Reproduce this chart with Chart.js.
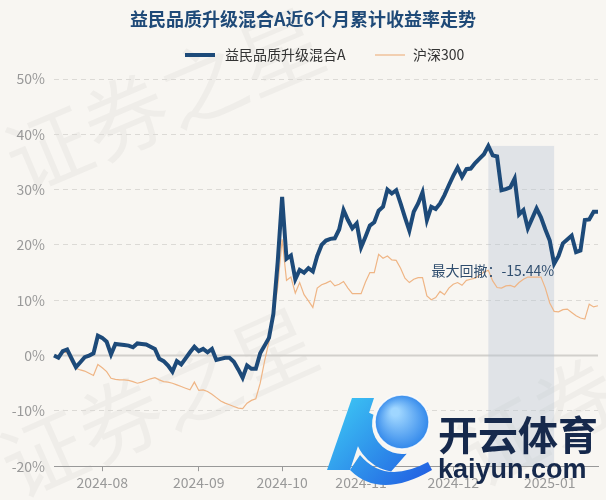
<!DOCTYPE html>
<html><head><meta charset="utf-8">
<script src="https://cdn.jsdelivr.net/npm/chart.js@4"></script>
<style>html,body{margin:0;padding:0;background:#f8f6f2;}#wrap{width:606px;height:500px;position:relative;}</style>
</head><body><div id="wrap"><canvas id="c"></canvas></div>
<script>
// ---- data ----
const startDate = '2024-07-17';
const endDate = '2025-01-17';
const holidays = ['2024-09-16','2024-09-17','2024-10-01','2024-10-02','2024-10-03','2024-10-04','2024-10-07','2025-01-01'];
const seriesNames = ['益民品质升级混合A', '沪深300'];
const fund = [
 0.0,-0.4,0.8,1.1,-0.5,-2.1,-1.2,-0.3,0.0,0.4,
 3.6,3.2,2.5,0.2,2.1,2.0,1.9,1.8,1.5,2.2,
 2.1,2.0,1.6,1.2,-0.6,-1.0,-1.8,-2.9,-1.0,-1.6,
 -0.5,0.6,1.6,0.8,1.2,0.6,1.2,-0.8,-0.6,-0.4,
 -0.4,-1.1,-2.5,-4.0,-1.8,-2.4,-2.4,0.4,1.8,3.2,
 7.5,17.0,28.7,17.5,18.1,13.8,15.5,15.0,15.8,15.2,
 18.0,20.0,20.8,21.1,21.2,22.8,26.3,24.5,23.0,23.9,
 19.6,21.5,23.5,24.1,26.2,26.9,30.0,29.3,29.9,27.5,
 25.0,22.6,26.0,27.5,29.5,24.5,26.9,26.5,27.5,29.0,
 30.8,32.5,34.0,32.3,33.7,33.8,34.8,35.6,36.4,37.9,
 36.2,36.0,29.9,30.1,30.4,32.0,25.5,26.3,23.0,24.8,
 26.6,25.0,22.8,20.8,16.6,18.0,20.3,21.0,21.7,18.7,
 19.0,24.5,24.6,26.0,26.0
];
const hs300 = [
 0.0,-0.3,0.6,0.5,-1.2,-2.3,-2.6,-2.8,-3.2,-3.6,
 -1.6,-2.2,-2.9,-4.1,-4.3,-4.4,-4.4,-4.5,-4.7,-5.0,
 -4.8,-4.5,-4.2,-4.0,-4.4,-4.7,-4.8,-5.0,-5.3,-5.6,
 -5.9,-6.2,-4.8,-6.3,-6.2,-6.5,-7.0,-7.6,-8.2,-8.6,
 -8.9,-9.2,-9.5,-9.6,-8.6,-8.1,-7.8,-5.0,-1.0,2.5,
 7.0,12.5,21.0,13.6,14.2,11.3,13.2,11.0,9.9,8.7,
 12.2,12.8,13.1,13.5,12.6,12.9,13.4,12.2,11.2,11.2,
 11.2,13.3,15.0,15.0,18.3,17.6,18.0,17.3,17.2,15.8,
 14.0,13.2,13.8,14.1,14.1,10.8,10.1,10.5,11.6,11.0,
 12.2,12.9,13.2,12.7,13.6,13.8,14.0,14.5,15.1,15.4,
 13.5,12.3,12.2,12.6,12.7,12.4,13.2,13.8,14.2,14.2,
 14.2,14.2,12.2,9.5,8.0,7.9,8.3,8.4,7.8,7.2,
 6.8,6.6,9.3,8.8,9.0
];
const yTicks = [-20,-10,0,10,20,30,40,50];
const drawdownText = '最大回撤：-15.44%';
const titleText = '益民品质升级混合A近6个月累计收益率走势';

// trading-day categories
function tradingDays(){
  const out=[]; const d=new Date(startDate+'T00:00:00Z'); const e=new Date(endDate+'T00:00:00Z');
  while(d<=e){
    const s=d.toISOString().slice(0,10); const w=d.getUTCDay();
    if(w!==0&&w!==6&&!holidays.includes(s)) out.push(s);
    d.setUTCDate(d.getUTCDate()+1);
  }
  return out;
}
const dates = tradingDays();
const isMonthStart = i => i>0 && dates[i].slice(0,7)!==dates[i-1].slice(0,7);

const FONT = "'Noto Sans CJK SC', 'Noto Sans', sans-serif";
const COLORS = ['#1d4a79', '#efb585'];
const WIDTHS = [4, 1.2];

// peak/trough from data
let peakI=0, ddI=0, best=0, runPeak=0;
for(let i=0;i<fund.length;i++){
  if(fund[i]>fund[runPeak]) runPeak=i;
  const dd=(1+fund[i]/100)/(1+fund[runPeak]/100)-1;
  if(dd<best){best=dd;ddI=i;peakI=runPeak;}
}

const bgPlugin = {
  id:'bg',
  beforeDraw(chart){
    const {ctx,width,height}=chart;
    ctx.save();
    ctx.fillStyle='#f8f6f2'; ctx.fillRect(0,0,width,height);
    ctx.fillStyle='rgba(0,0,0,0.035)';
    ctx.font="84px "+FONT;
    ctx.textBaseline='alphabetic';
    const marks=[[22,195,-0.4],[18,500,-0.42],[480,490,-0.5]];
    marks.forEach(([x,y,r])=>{ctx.save();ctx.translate(x,y);ctx.rotate(r);ctx.fillText('证券之星',0,0);ctx.restore();});
    // title
    ctx.fillStyle='#1f4a78'; ctx.font="bold 18px "+FONT; ctx.textAlign='center'; ctx.textBaseline='middle';
    ctx.fillText(titleText, 303, 19);
    // legend
    const items=[[185,225],[375,413]];
    items.forEach(([lx,tx],k)=>{
      ctx.strokeStyle=COLORS[k]; ctx.lineWidth=WIDTHS[k];
      ctx.beginPath(); ctx.moveTo(lx,55); ctx.lineTo(lx+30,55); ctx.stroke();
      ctx.fillStyle='#333'; ctx.font="14px "+FONT; ctx.textAlign='left'; ctx.textBaseline='middle';
      ctx.fillText(seriesNames[k], tx, 55);
    });
    ctx.restore();
  },
  beforeDatasetsDraw(chart){
    const {ctx,chartArea}=chart; const xs=chart.scales.x, ys=chart.scales.y;
    ctx.save();
    ctx.strokeStyle='#d2d0cc'; ctx.lineWidth=2;
    ctx.beginPath(); ctx.moveTo(chartArea.left, ys.getPixelForValue(0)); ctx.lineTo(chartArea.right, ys.getPixelForValue(0)); ctx.stroke();
    const x1=xs.getPixelForValue(peakI), x2=xs.getPixelForValue(ddI);
    const yTop=ys.getPixelForValue(fund[peakI]);
    ctx.fillStyle='rgba(185,198,212,0.38)';
    ctx.fillRect(x1,yTop,x2-x1,chartArea.bottom-yTop);
    ctx.restore();
  },
  afterDatasetsDraw(chart){
    const {ctx}=chart; const xs=chart.scales.x, ys=chart.scales.y;
    ctx.save();
    ctx.font="14px "+FONT; ctx.fillStyle='#2f4d6e';
    ctx.textAlign='right'; ctx.textBaseline='top';
    ctx.fillText(drawdownText, xs.getPixelForValue(ddI), ys.getPixelForValue(fund[ddI])+0);
    ctx.restore();
  },
  afterDraw(chart){
    const {ctx}=chart;
    ctx.save();
    const g=ctx.createLinearGradient(325,395,430,495);
    g.addColorStop(0,'#3fd0f6'); g.addColorStop(1,'#1f55e0');
    ctx.fillStyle=g;
    ctx.beginPath(); ctx.moveTo(352,398); ctx.lineTo(374,398); ctx.lineTo(350,470); ctx.lineTo(327,470); ctx.closePath(); ctx.fill();
    ctx.beginPath();
    ctx.arc(398,428,44,Math.PI*0.55,Math.PI*1.15,false);
    ctx.arc(402,424,30,Math.PI*1.1,Math.PI*0.45,true);
    ctx.closePath(); ctx.fill();
    ctx.beginPath(); ctx.moveTo(350,470); ctx.quadraticCurveTo(380,500,432,470); ctx.lineTo(428,462); ctx.quadraticCurveTo(385,485,360,455); ctx.closePath(); ctx.fill();
    const b=ctx.createRadialGradient(395,412,4,402,422,28);
    b.addColorStop(0,'#9fd6ff'); b.addColorStop(1,'#2f86ea');
    ctx.fillStyle=b;
    ctx.beginPath(); ctx.arc(402,422,27,0,Math.PI*2); ctx.fill();
    ctx.strokeStyle='rgba(255,255,255,0.8)'; ctx.lineWidth=1.5;
    ctx.beginPath(); ctx.arc(402,422,27,0,Math.PI*2); ctx.stroke();
    ctx.fillStyle='#16294c';
    ctx.font="bold 40px "+FONT; ctx.textBaseline='alphabetic'; ctx.textAlign='left';
    ctx.fillText('开云体育',438,450);
    ctx.font="bold 27px 'Liberation Sans', sans-serif";
    ctx.fillText('kaiyun.com',438,478);
    ctx.restore();
  }
};

new Chart(document.getElementById('c'),{
  type:'line',
  data:{
    labels:dates,
    datasets:[
      {label:seriesNames[0],data:fund,borderColor:COLORS[0],backgroundColor:COLORS[0],borderWidth:WIDTHS[0],pointRadius:0,tension:0,order:1},
      {label:seriesNames[1],data:hs300,borderColor:COLORS[1],backgroundColor:COLORS[1],borderWidth:WIDTHS[1],pointRadius:0,tension:0,order:2}
    ]
  },
  options:{
    responsive:true, maintainAspectRatio:false, animation:false,
    layout:{padding:{left:0,right:8,top:79,bottom:6}},
    plugins:{ title:{display:false}, legend:{display:false}, tooltip:{enabled:false} },
    scales:{
      x:{type:'category',offset:false,
        ticks:{autoSkip:false,maxRotation:0,color:'#999',font:{size:14,family:FONT},padding:3,
          callback:function(v){return this.getLabelForValue(v).slice(0,7);}},
        afterBuildTicks:(s)=>{s.ticks=s.ticks.filter(t=>isMonthStart(t.value));},
        grid:{drawOnChartArea:false,drawTicks:true,tickLength:5,color:'#999'},
        border:{display:true,color:'#999',width:1}
      },
      y:{min:-20,max:50,
        afterBuildTicks:(s)=>{s.ticks=yTicks.map(v=>({value:v}));},
        afterFit:(s)=>{s.width=54;},
        ticks:{color:'#999',font:{size:14,family:FONT},padding:9,callback:v=>v+'%'},
        grid:{color:c=>c.tick&&c.tick.value===0?'rgba(0,0,0,0)':'#dcdad6',drawTicks:false,lineWidth:1},
        border:{display:false,dash:[5,4]}
      }
    }
  },
  plugins:[bgPlugin]
});
</script></body></html>
